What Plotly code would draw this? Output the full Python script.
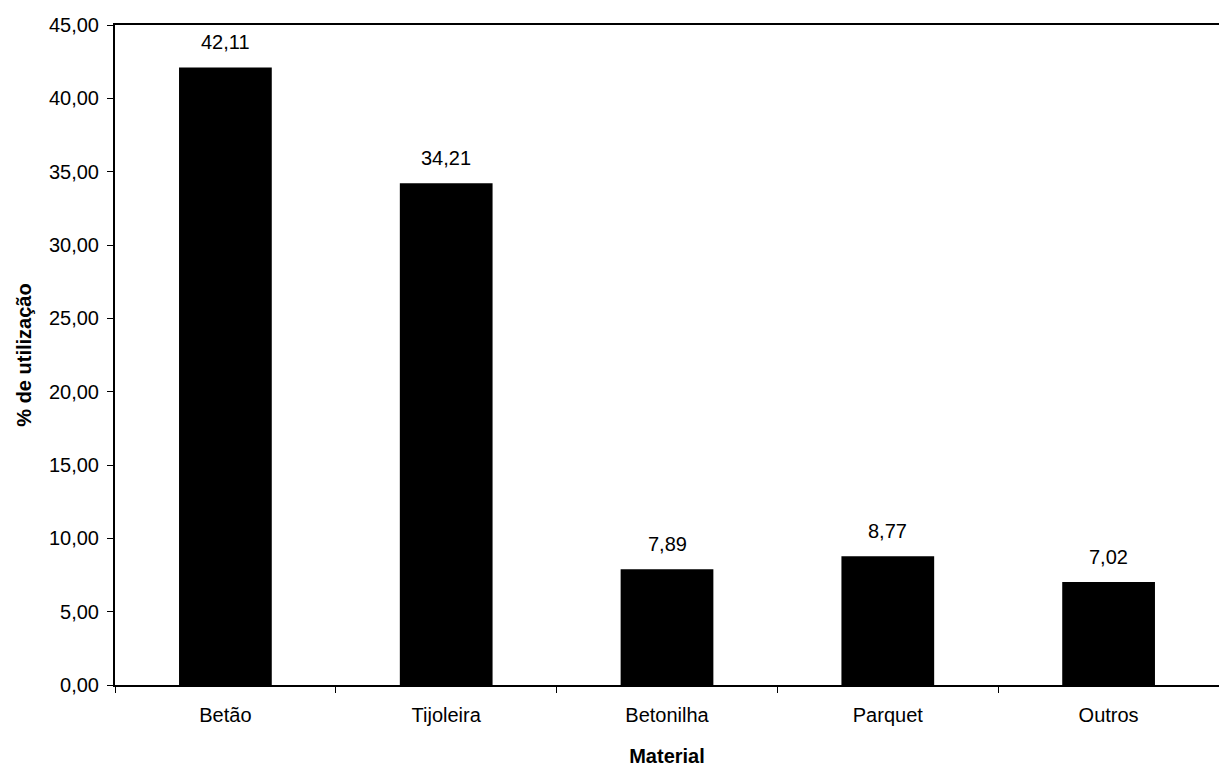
import plotly.graph_objects as go

materials = ["Betão", "Tijoleira", "Betonilha", "Parquet", "Outros"]
usage_pct = [42.11, 34.21, 7.89, 8.77, 7.02]
y_ticks = [0, 5, 10, 15, 20, 25, 30, 35, 40, 45]

font_family = "Liberation Sans, Arial, sans-serif"
FS = 20

fig = go.Figure(
    go.Bar(
        x=materials,
        y=usage_pct,
        marker=dict(color="#000000", line=dict(width=0)),
        showlegend=False,
    )
)

# value labels above each bar
for cat, val in zip(materials, usage_pct):
    fig.add_annotation(
        x=cat,
        y=val,
        text=f"{val:.2f}".replace(".", ","),
        showarrow=False,
        yanchor="bottom",
        yshift=12,
        font=dict(family=font_family, size=FS, color="#000000"),
    )

fig.update_layout(
    width=1219,
    height=767,
    margin=dict(l=115, r=0, t=25, b=82),
    paper_bgcolor="white",
    plot_bgcolor="white",
    separators=",.",
    bargap=0.58,
    font=dict(family=font_family, size=FS, color="#000000"),
)

fig.update_xaxes(
    showline=True,
    linecolor="#000000",
    linewidth=2,
    mirror=True,
    ticks="outside",
    tickson="boundaries",
    ticklen=6,
    tickcolor="#000000",
    tickfont=dict(size=FS),
    ticklabelstandoff=11,
    title=dict(text="<b>Material</b>", font=dict(size=FS), standoff=24),
    showgrid=False,
)

fig.update_yaxes(
    range=[0, 45],
    tickvals=y_ticks,
    tickformat=".2f",
    showline=True,
    linecolor="#000000",
    linewidth=2,
    ticks="outside",
    ticklen=6,
    tickcolor="#000000",
    tickfont=dict(size=FS),
    ticklabelstandoff=4,
    title=dict(text="<b>% de utilização</b>", font=dict(size=FS), standoff=12),
    showgrid=False,
    zeroline=False,
)

fig.write_html("out.html")
